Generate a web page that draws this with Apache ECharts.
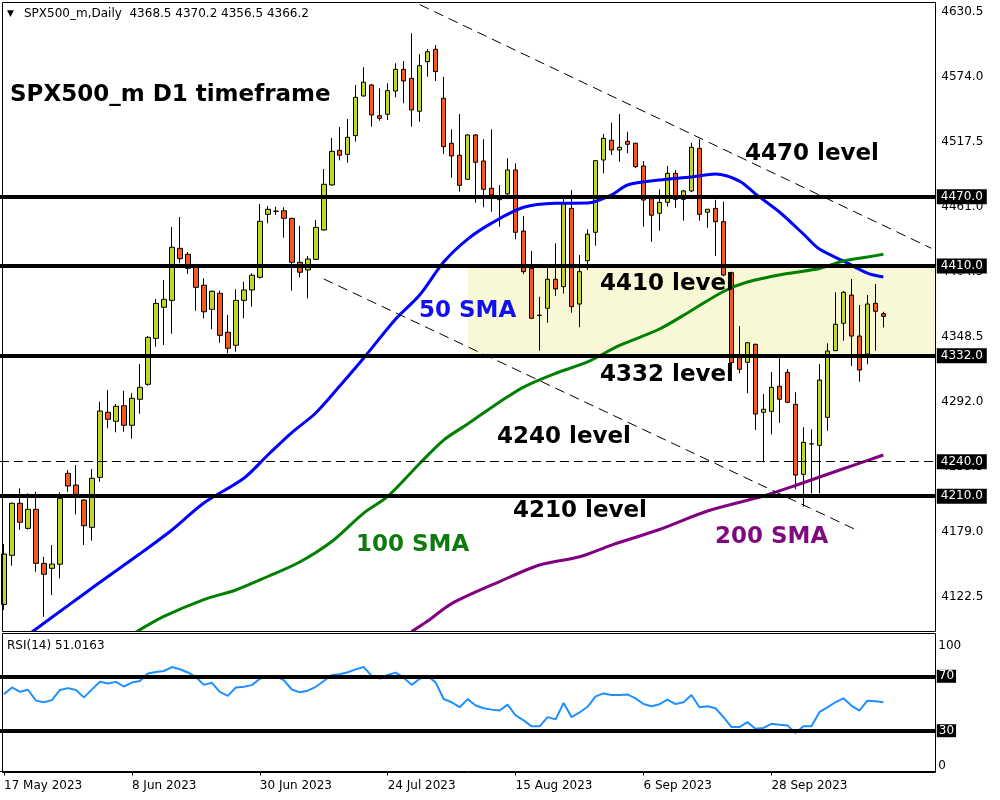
<!DOCTYPE html>
<html><head><meta charset="utf-8">
<script src="https://cdn.jsdelivr.net/npm/echarts@6/dist/echarts.min.js"></script>
<style>html,body{margin:0;padding:0;background:#fff}#c{width:1000px;height:800px}</style>
</head><body><div id="c"></div>
<script>
// ---------- DATA ----------
const monthNames = ['Jan','Feb','Mar','Apr','May','Jun','Jul','Aug','Sep','Oct','Nov','Dec'];
function weekdayLabels(y, m, d, n) {
  const out = []; const dt = new Date(Date.UTC(y, m, d));
  while (out.length < n) {
    const wd = dt.getUTCDay();
    if (wd !== 0 && wd !== 6) out.push(dt.getUTCDate() + ' ' + monthNames[dt.getUTCMonth()] + ' ' + dt.getUTCFullYear());
    dt.setUTCDate(dt.getUTCDate() + 1);
  }
  return out;
}
// 111 daily bars (17 May 2023 ->) plus 6 empty future slots on the right
const categories = weekdayLabels(2023, 4, 17, 117);

// [open, high, low, close]
const ohlc = [
[4116.1,4168.5,4111.2,4159.8],[4158.7,4204.5,4149.7,4203.9],[4203.9,4216.9,4180.9,4187.4],[4182.1,4212.5,4181.0,4198.6],
[4198.6,4213.9,4144.5,4151.7],[4151.7,4157.5,4105.4,4142.2],[4147.4,4167.6,4124.2,4151.1],[4151.0,4213.4,4138.7,4208.2],
[4229.9,4232.8,4213.9,4218.9],[4219.7,4237.1,4194.3,4211.7],[4206.7,4207.5,4167.6,4184.4],[4183.0,4233.6,4171.4,4225.6],
[4226.4,4292.1,4222.6,4284.0],[4282.9,4302.2,4269.0,4276.8],[4275.1,4290.1,4265.5,4288.1],[4288.6,4301.6,4266.0,4271.6],
[4271.6,4299.4,4260.0,4295.0],[4294.2,4324.8,4281.7,4304.6],[4307.2,4349.0,4306.0,4348.0],[4347.1,4381.3,4339.8,4377.5],
[4374.1,4397.8,4341.3,4381.0],[4380.1,4443.8,4351.1,4426.2],[4425.3,4452.5,4412.3,4416.3],[4420.1,4422.1,4403.0,4407.9],
[4408.8,4409.5,4371.1,4391.4],[4393.2,4399.2,4364.5,4370.2],[4372.3,4388.6,4355.0,4388.0],[4386.2,4388.5,4343.3,4349.7],
[4352.4,4367.4,4334.1,4338.5],[4341.1,4389.7,4335.5,4380.1],[4380.1,4396.3,4364.5,4389.1],[4389.1,4403.6,4374.6,4401.9],
[4400.1,4463.8,4399.0,4448.7],[4454.8,4462.0,4447.0,4459.2],[4457.5,4461.5,4454.3,4457.5],[4457.9,4460.9,4434.5,4451.3],
[4451.3,4452.0,4388.5,4413.1],[4413.1,4444.7,4400.1,4404.5],[4406.5,4418.6,4381.9,4416.0],[4415.7,4449.9,4415.0,4443.5],
[4441.2,4494.2,4440.6,4480.9],[4480.3,4521.1,4479.7,4509.5],[4510.4,4530.6,4501.7,4506.1],[4506.9,4537.6,4499.6,4521.7],
[4523.1,4567.1,4517.9,4556.4],[4557.6,4582.5,4557.0,4569.5],[4567.1,4568.0,4530.9,4541.1],[4540.4,4564.2,4536.1,4538.2],
[4541.7,4568.6,4536.7,4562.2],[4561.9,4586.0,4556.4,4580.7],[4580.7,4587.9,4551.2,4570.6],[4572.9,4612.0,4530.9,4545.4],
[4544.3,4593.8,4535.2,4583.9],[4587.3,4598.4,4574.3,4596.0],[4598.1,4601.8,4570.6,4578.7],[4555.6,4574.3,4507.2,4513.5],
[4516.5,4528.6,4486.6,4505.5],[4506.1,4541.9,4474.5,4480.0],[4485.2,4524.2,4484.8,4523.7],[4523.7,4524.5,4464.9,4500.0],
[4501.1,4520.0,4460.9,4476.5],[4477.4,4528.6,4457.1,4471.6],[4467.5,4480.3,4444.1,4471.0],[4472.5,4503.5,4468.0,4493.3],
[4493.3,4499.0,4433.1,4439.2],[4440.3,4453.3,4403.0,4405.0],[4407.9,4423.0,4363.8,4364.5],[4367.2,4383.3,4336.4,4367.0],
[4373.2,4408.5,4360.7,4398.4],[4398.4,4429.6,4383.9,4390.0],[4392.0,4468.0,4386.0,4464.4],[4460.0,4475.9,4369.4,4374.6],
[4376.9,4419.5,4356.7,4405.0],[4414.5,4441.8,4406.5,4437.5],[4439.2,4502.0,4427.6,4501.4],[4502.0,4524.6,4490.4,4520.8],
[4519.1,4534.4,4506.3,4510.7],[4510.7,4541.9,4500.5,4513.0],[4518.2,4526.5,4507.8,4515.6],[4516.5,4517.0,4495.0,4496.2],
[4496.8,4501.1,4444.1,4467.2],[4468.4,4469.0,4431.0,4454.0],[4455.7,4476.5,4440.6,4465.2],[4465.2,4496.8,4461.4,4490.4],
[4490.4,4493.3,4460.5,4467.8],[4467.8,4476.0,4449.3,4475.1],[4475.1,4517.0,4474.0,4513.0],[4512.1,4520.0,4449.3,4454.8],
[4456.6,4459.5,4443.2,4459.2],[4460.0,4467.4,4418.6,4448.4],[4448.4,4465.8,4401.0,4402.1],[4404.1,4405.0,4325.0,4326.0],
[4330.3,4357.8,4316.7,4320.2],[4326.3,4344.0,4299.4,4343.3],[4341.9,4342.5,4267.5,4281.4],[4282.9,4298.8,4239.5,4285.5],
[4283.7,4317.9,4263.8,4304.6],[4305.5,4331.2,4273.8,4294.2],[4317.6,4320.5,4290.8,4291.6],[4289.8,4300.3,4216.0,4228.4],
[4229.0,4269.9,4200.9,4256.8],[4255.5,4268.1,4212.5,4255.5],[4254.2,4324.8,4212.5,4310.9],[4278.5,4342.8,4266.9,4336.1],
[4336.4,4387.1,4336.0,4359.3],[4360.2,4388.2,4345.1,4387.1],[4384.7,4398.6,4323.1,4349.1],[4349.1,4376.1,4309.5,4319.6],
[4333.5,4384.7,4324.6,4376.9],[4377.5,4394.3,4336.4,4370.6],[4368.5,4370.2,4356.5,4366.2]
];

// moving averages: [bar index, value]
const sma50 = [[3,4089.6],[8,4115.0],[12,4135.3],[17,4160.0],[21,4180.7],[25,4204.1],[30,4225.6],[33,4245.8],[36,4265.3],
[39,4282.3],[42,4305.7],[45,4330.0],[49,4363.9],[52,4384.7],[55,4413.4],[58,4433.3],[61,4447.2],[65,4460.9],[69,4464.4],
[73,4464.6],[76,4471.6],[78,4480.3],[82,4484.6],[86,4487.2],[89,4489.8],[92,4483.7],[94,4472.5],[97,4456.8],[100,4437.7],
[102,4424.6],[105,4414.3],[108,4403.8],[110,4400.4]];
const sma100 = [[16,4089.9],[20,4105.6],[25,4120.3],[29,4128.6],[33,4140.3],[37,4152.9],[41,4170.7],[45,4195.4],[48,4209.8],
[52,4238.4],[55,4258.8],[58,4272.7],[62,4291.8],[65,4304.8],[69,4316.7],[73,4326.6],[77,4340.9],[82,4355.2],[86,4371.3],
[90,4387.8],[93,4396.0],[98,4403.4],[102,4407.8],[105,4414.3],[108,4417.7],[110,4420.1]];
const sma200 = [[51,4092.5],[53,4101.6],[56,4116.8],[62,4135.9],[67,4150.3],[72,4157.5],[76,4167.6],[82,4181.1],[88,4197.2],
[95,4210.2],[99,4219.3],[104,4231.5],[110,4245.8]];

const rsi = [56.9,61.8,58.6,60.1,52.1,50.9,52.5,60.0,61.3,60.0,54.5,60.4,66.0,64.7,65.9,62.5,65.4,66.6,72.0,73.1,
73.9,76.8,75.2,72.8,69.5,63.7,65.2,58.5,55.6,61.8,62.3,63.5,68.2,70.2,70.0,67.2,60.3,58.2,59.4,62.3,
66.5,71.0,71.5,73.0,75.1,76.8,70.3,68.3,71.0,72.7,69.0,63.7,68.2,70.3,65.4,53.3,50.9,47.3,53.2,48.5,
46.5,45.5,44.8,49.2,41.2,37.6,33.2,33.2,40.0,38.3,50.4,40.0,43.4,47.6,55.2,57.4,56.2,56.2,56.7,53.8,
49.6,48.0,49.5,52.8,49.6,50.9,56.2,47.2,48.0,46.5,40.0,32.7,32.7,36.3,31.5,32.0,35.1,34.4,33.9,28.3,
33.2,33.2,43.6,47.2,50.9,53.8,48.5,44.8,52.1,51.6,51.0];

const levelLines = [4470, 4410, 4332, 4210];
const dashedLevel = 4240;
const lastPrice = 4366.2;
const zoneTop = 4410, zoneBottom = 4332, zoneStartBar = 58;
const upperTrend = [[52, 4636.9], [116, 4425.3]];
const lowerTrend = [[40, 4398.7], [107, 4179.5]];
const rsiLevels = [70, 30];

const priceTickLabels = ['4122.5','4179.0','4235.5','4292.0','4348.5','4404.5','4461.0','4517.5','4574.0','4630.5'];
const priceTickBase = 4122.5, priceTickStep = 56.444;
const rsiTickLabels = {100: '100', 0: '0'};

// ---------- CHART ----------
const FONT = 'DejaVu Sans';
const chart = echarts.init(document.getElementById('c'), null, {renderer: 'canvas'});

const boxLabel = (txt) => ({
  show: true, position: 'end', distance: 1.5, formatter: txt,
  backgroundColor: '#000', color: '#fff', fontFamily: FONT, fontSize: 12, padding: [2, 4, 1, 4]
});

const mainMarkLines = [];
levelLines.forEach(v => mainMarkLines.push({yAxis: v, lineStyle: {color: '#000', width: 4, type: 'solid'}, label: boxLabel(v.toFixed(1))}));
mainMarkLines.push({yAxis: dashedLevel, lineStyle: {color: '#000', width: 1, type: [9, 5]}, label: boxLabel(dashedLevel.toFixed(1))});
mainMarkLines.push({yAxis: lastPrice, lineStyle: {opacity: 0, width: 0}, label: boxLabel(lastPrice.toFixed(1))});
[upperTrend, lowerTrend].forEach(t => mainMarkLines.push([
  {coord: [categories[t[0][0]], t[0][1]], lineStyle: {color: '#000', width: 1, type: [10, 6]}, label: {show: false}},
  {coord: [categories[t[1][0]], t[1][1]]}
]));

const axisCommonX = {
  type: 'category', data: categories, boundaryGap: true,
  axisLine: {show: false}, axisTick: {show: false}, axisLabel: {show: false}, splitLine: {show: false}
};
const showDateIdx = (i) => i % 16 === 0 && i < ohlc.length;

const option = {
  animation: false,
  backgroundColor: '#fff',
  grid: [
    {left: -0.7, top: 3, width: 936, height: 626.5},
    {left: -0.7, top: 635.5, width: 936, height: 136}
  ],
  xAxis: [
    Object.assign({gridIndex: 0}, axisCommonX),
    Object.assign({}, axisCommonX, {
      gridIndex: 1,
      axisLine: {show: true, lineStyle: {color: '#000'}},
      axisTick: {show: true, interval: showDateIdx, alignWithLabel: true, length: 4, lineStyle: {color: '#000'}},
      axisLabel: {show: true, interval: showDateIdx, align: 'left', margin: 8, color: '#000', fontFamily: FONT, fontSize: 12}
    })
  ],
  yAxis: [
    {
      gridIndex: 0, type: 'value', position: 'right', scale: true,
      min: priceTickBase - priceTickStep / 2, max: 4638.3, interval: priceTickStep / 2,
      splitLine: {show: false},
      axisLine: {show: true, lineStyle: {color: '#000'}},
      axisTick: {show: false},
      axisLabel: {
        margin: 6, color: '#000', fontFamily: FONT, fontSize: 12,
        formatter: function (v) {
          const i = Math.round((v - priceTickBase) / priceTickStep);
          return (i >= 0 && i < priceTickLabels.length && Math.abs(v - (priceTickBase + i * priceTickStep)) < 0.5) ? priceTickLabels[i] : '';
        }
      }
    },
    {
      gridIndex: 1, type: 'value', position: 'right', min: 0, max: 100, interval: 10,
      splitLine: {show: false},
      axisLine: {show: true, lineStyle: {color: '#000'}},
      axisTick: {show: false},
      axisLabel: {
        margin: 3, color: '#000', fontFamily: FONT, fontSize: 12,
        formatter: function (v) {
          if (v === 100) return '{t|' + rsiTickLabels[100] + '}';
          if (v === 0) return '{z|' + rsiTickLabels[0] + '}';
          return '';
        },
        rich: {
          t: {padding: [20, 0, 0, 0], fontFamily: FONT, fontSize: 12, color: '#000'},
          z: {padding: [0, 0, 12, 0], fontFamily: FONT, fontSize: 12, color: '#000'}
        }
      }
    }
  ],
  series: [
    {
      name: 'SPX500_m', type: 'candlestick', xAxisIndex: 0, yAxisIndex: 0,
      barWidth: 5,
      data: ohlc.map(r => [r[0], r[3], r[2], r[1]]),
      itemStyle: {color: '#c3d72b', color0: '#f15a22', borderColor: '#000', borderColor0: '#000', borderColorDoji: '#000', borderWidth: 1},
      markArea: {
        silent: true,
        itemStyle: {color: '#f8f8d6', opacity: 1},
        data: [[{xAxis: categories[zoneStartBar], yAxis: zoneTop}, {xAxis: Infinity, yAxis: zoneBottom}]]
      },
      markLine: {symbol: ['none', 'none'], silent: true, animation: false, data: mainMarkLines}
    },
    {name: '50 SMA', type: 'line', xAxisIndex: 0, yAxisIndex: 0, data: sma50, smooth: 0.3, showSymbol: false, symbol: 'none',
      lineStyle: {color: '#0000ff', width: 3}},
    {name: '100 SMA', type: 'line', xAxisIndex: 0, yAxisIndex: 0, data: sma100, smooth: 0.3, showSymbol: false, symbol: 'none',
      lineStyle: {color: '#008000', width: 3}},
    {name: '200 SMA', type: 'line', xAxisIndex: 0, yAxisIndex: 0, data: sma200, smooth: 0.3, showSymbol: false, symbol: 'none',
      lineStyle: {color: '#800080', width: 3}},
    {
      name: 'RSI(14)', type: 'line', xAxisIndex: 1, yAxisIndex: 1, data: rsi, showSymbol: false, symbol: 'none',
      lineStyle: {color: '#1e90ff', width: 2},
      markLine: {
        symbol: ['none', 'none'], silent: true, animation: false,
        data: rsiLevels.map(v => ({yAxis: v, lineStyle: {color: '#000', width: 4, type: 'solid'},
          label: {show: true, position: 'end', distance: 1.5, formatter: String(v), backgroundColor: '#000', color: '#fff',
            fontFamily: FONT, fontSize: 12, padding: [1, 2, 0, 2]}}))
      }
    }
  ],
  graphic: [
    {type: 'rect', silent: true, z: 50, shape: {x: 2.5, y: 2.5, width: 933, height: 629}, style: {fill: 'none', stroke: '#000', lineWidth: 1}},
    {type: 'rect', silent: true, z: 50, shape: {x: 2.5, y: 633.5, width: 933, height: 139}, style: {fill: 'none', stroke: '#000', lineWidth: 1}},
    {type: 'text', z: 60, x: 7, y: 14, style: {text: '▼', font: '9px "DejaVu Sans"', fill: '#000', verticalAlign: 'middle'}},
    {type: 'text', z: 60, x: 24, y: 14, style: {text: 'SPX500_m,Daily  4368.5 4370.2 4356.5 4366.2', font: '12px "DejaVu Sans"', fill: '#000', verticalAlign: 'middle'}},
    {type: 'text', z: 60, x: 7, y: 646, style: {text: 'RSI(14) 51.0163', font: '12px "DejaVu Sans"', fill: '#000', verticalAlign: 'middle'}},
    {type: 'text', z: 60, x: 10, y: 95, style: {text: 'SPX500_m D1 timeframe', font: 'bold 23px "DejaVu Sans"', fill: '#000', verticalAlign: 'middle'}},
    {type: 'text', z: 60, x: 745, y: 154, style: {text: '4470 level', font: 'bold 23px "DejaVu Sans"', fill: '#000', verticalAlign: 'middle'}},
    {type: 'text', z: 60, x: 600, y: 284, style: {text: '4410 level', font: 'bold 23px "DejaVu Sans"', fill: '#000', verticalAlign: 'middle'}},
    {type: 'text', z: 60, x: 600, y: 375, style: {text: '4332 level', font: 'bold 23px "DejaVu Sans"', fill: '#000', verticalAlign: 'middle'}},
    {type: 'text', z: 60, x: 497, y: 437, style: {text: '4240 level', font: 'bold 23px "DejaVu Sans"', fill: '#000', verticalAlign: 'middle'}},
    {type: 'text', z: 60, x: 513, y: 511, style: {text: '4210 level', font: 'bold 23px "DejaVu Sans"', fill: '#000', verticalAlign: 'middle'}},
    {type: 'text', z: 60, x: 419, y: 311, style: {text: '50 SMA', font: 'bold 23px "DejaVu Sans"', fill: '#1010f0', verticalAlign: 'middle'}},
    {type: 'text', z: 60, x: 356, y: 545, style: {text: '100 SMA', font: 'bold 23px "DejaVu Sans"', fill: '#0f7a0f', verticalAlign: 'middle'}},
    {type: 'text', z: 60, x: 715, y: 537, style: {text: '200 SMA', font: 'bold 23px "DejaVu Sans"', fill: '#7f0a7f', verticalAlign: 'middle'}}
  ]
};
chart.setOption(option);
</script>
</body></html>
